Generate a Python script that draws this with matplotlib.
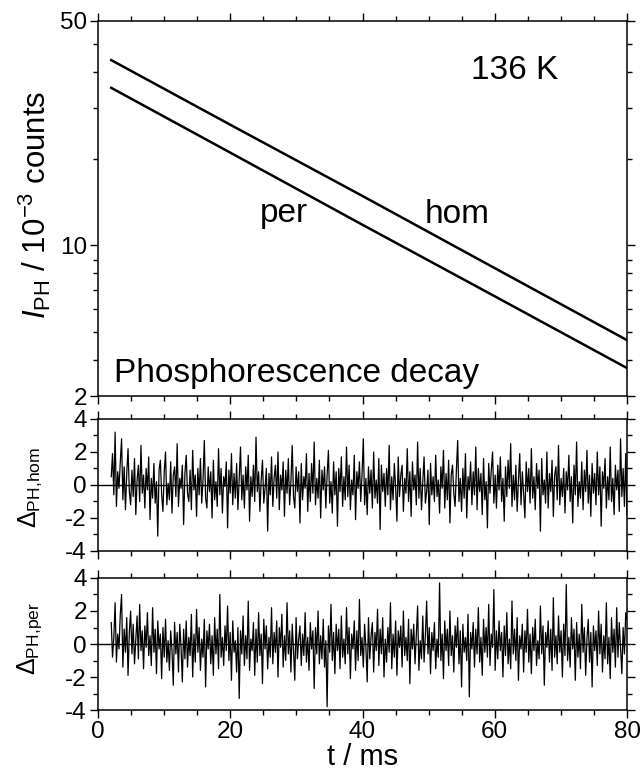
import numpy as np
import matplotlib
matplotlib.use("Agg")
import matplotlib.pyplot as plt

plt.rcParams['font.family'] = ['Liberation Sans', 'DejaVu Sans']
plt.rcParams['mathtext.fontset'] = 'custom'
plt.rcParams['mathtext.rm'] = 'Liberation Sans'
plt.rcParams['mathtext.it'] = 'Liberation Sans:italic'
plt.rcParams['mathtext.sf'] = 'Liberation Sans'
plt.rcParams['axes.unicode_minus'] = False

# ─── Data ─────────────────────────────────────────────────────────────────────
# decay curves (I_PH in 1e-3 counts), read at a few times
t_decay = [2, 20, 40, 60, 80]
decay_hom = [33.9, 18.2, 12.6, 7.36, 3.68]
decay_per = [25.1, 15.55, 11.0, 5.65, 2.74]

# y axis of the decay panel: tick values and where they sit (axis is not a plain log axis)
yticks_major = [2, 10, 50]
yticks_minor = [3, 4, 5, 6, 7, 8, 15, 20, 30, 40]
scale_vals = [2, 3, 4, 5, 6, 7, 8, 10, 15, 20, 30, 40, 50]
scale_pos = [0, 36, 64, 87, 106, 123, 136, 151, 237, 288, 324, 352, 375]

# weighted residuals, sampled uniformly from t = 2 ms to 80 ms
res_hom = [
    0.5, 1.9, -0.6, 3.2, -1.3, 0.8, -0.2, 1.4, 2.8, -0.9, 1.1, -1.5, 0.7, 2.2, -0.4, -1.2, 0.9, -0.7, 1.6, -1.8, 0.3, 1.2, -1.0, 2.4, -0.5,
    0.6, -1.4, 1.0, -0.3, 1.7, -2.1, 0.4, -0.8, 1.3, -1.1, 0.2, -3.1, 0.9, 1.5, -0.6, -1.6, 0.8, 2.0, -1.2, 0.1, -0.9, 1.4, -1.7, 0.6, 1.1,
    -0.7, 2.5, -1.3, 0.4, -0.2, 1.2, -2.4, 0.7, 1.8, -0.5, -1.0, 0.9, -1.5, 2.1, -0.3, 0.6, -1.9, 1.0, -0.6, 1.6, -1.1, 0.3, 2.7, -0.8, -1.4,
    1.1, -0.4, 0.8, -2.0, 1.5, -0.9, 0.2, -1.3, 2.2, -0.6, 1.0, -1.7, 0.5, -0.1, 1.4, -2.6, 0.9, -0.5, 1.9, -1.2, 0.7, -0.8, 1.3, -1.5, 0.4,
    2.3, -0.9, 0.6, -1.4, 1.1, -0.3, 1.8, -2.2, 0.5, -0.7, 1.2, -1.0, 2.9, -0.4, 0.8, -1.6, 0.3, 1.5, -1.1, -0.2, 1.0, -2.8, 0.7, -0.6, 1.7,
    -1.3, 0.4, 1.2, -0.8, 2.0, -1.5, 0.6, -0.3, 1.4, -1.9, 0.9, -0.5, 1.6, -1.2, 0.2, 2.4, -0.7, -1.4, 1.1, -0.4, 0.8, -2.3, 1.3, -0.9, 0.5,
    -0.2, 1.9, -1.6, 0.7, -1.0, 1.3, -0.5, 2.6, -1.2, 0.4, -0.8, 1.5, -2.0, 0.9, -0.3, 1.1, -1.4, 0.6, 2.1, -1.1, 0.2, -1.7, 1.4, -0.6, 0.8,
    -2.5, 1.0, -0.4, 1.7, -1.3, 0.5, -0.9, 2.3, -0.7, 1.2, -1.5, 0.3, -0.6, 1.8, -2.1, 0.8, -0.2, 1.4, -1.0, 0.6, 2.8, -1.2, 0.4, -1.8, 1.1,
    -0.5, 0.9, -1.4, 2.0, -0.8, 0.3, -1.1, 1.6, -2.7, 1.2, -0.4, 0.7, -1.3, 1.0, -0.6, 2.4, -1.5, 0.5, -0.9, 1.3, -0.2, -2.2, 1.7, -0.7, 0.6,
    1.2, -1.6, 0.4, -0.5, 2.2, -1.0, 0.8, -1.9, 1.4, -0.3, 0.6, -1.2, 2.6, -0.8, 1.0, -1.5, 0.2, 1.7, -1.1, -0.4, 0.9, -2.4, 1.3, -0.6, 0.5,
    -1.0, 1.8, -0.7, 0.3, -1.7, 1.1, -0.2, 2.1, -1.4, 0.7, -0.9, 1.5, -2.3, 0.6, 1.2, -0.5, -1.3, 0.9, 2.7, -1.0, 0.4, -1.6, 1.0, -0.8, 1.9,
    -2.0, 0.5, -0.3, 1.4, -1.2, 0.8, -0.6, 2.3, -1.5, 1.0, -0.4, 0.7, -1.8, 1.6, -0.9, 0.2, -2.6, 1.3, -0.5, 0.9, 2.0, -1.1, 0.6, -1.4, 1.2,
    -0.3, 1.7, -1.0, 0.4, -2.2, 1.1, -0.7, 1.5, -0.2, 2.5, -1.3, 0.6, -0.9, 1.2, -1.6, 0.3, 1.9, -1.2, 0.8, -0.5, -2.0, 1.4, -0.4, 1.0, -1.1,
    2.2, -0.8, 0.5, -1.5, 1.3, -0.2, 0.9, -2.8, 1.6, -0.6, 0.3, -1.1, 2.0, -1.4, 0.7, -0.4, 1.5, -1.9, 0.6, 1.1, -0.9, 2.4, -1.2, 0.4, -0.7,
    1.0, -1.7, 0.8, -0.3, 1.8, -1.0, 0.5, -2.3, 1.2, -0.6, 2.6, -1.3, 0.2, -0.8, 1.4, -1.5, 0.9, -0.4, 2.1, -1.1, 0.6, -1.9, 1.3, -0.5, 0.7,
    -1.2, 2.0, -0.6, 1.1, -2.5, 0.8, -0.2, 1.6, -1.4, 0.5, -0.9, 2.3, -1.0, 0.4, -1.8, 1.2, -0.3, 0.9, -1.6, 2.8, -0.7, 1.0, -1.3, 1.9, -1.8,
]
res_per = [
    1.3, -0.8, 0.4, 2.5, -1.1, 0.6, -0.3, 1.8, 3.0, -1.4, 0.9, -0.5, 1.6, -1.9, 0.7, 2.0, -0.6, 1.2, -1.2, 0.3, 1.7, -0.9, 2.4, -0.4, 0.8,
    -1.5, 1.1, -0.2, 1.9, -0.7, 0.5, -1.3, 2.2, -0.5, 0.9, -1.8, 1.4, -0.3, 0.6, -2.1, 1.0, -0.8, 1.5, -1.1, 0.2, -1.6, 0.8, -0.4, -2.5, 1.3,
    -0.6, 0.7, -1.7, 1.2, -0.2, -2.3, 0.9, -0.9, 1.4, -1.4, 0.4, -0.7, 1.8, -2.0, 0.6, -1.1, 2.1, -0.5, 1.0, -1.6, 0.3, -0.8, 1.5, -2.6, 0.8,
    -0.3, 1.2, -1.2, 0.5, -1.9, 1.6, -0.6, 0.9, -1.5, 3.0, -0.8, 0.4, -1.3, 1.1, -0.4, 2.3, -1.0, 0.7, -2.2, 1.4, -0.5, 0.2, -1.7, 1.0, -3.3,
    0.8, -0.6, 1.7, -1.3, 0.5, -0.9, 2.6, -1.6, 0.3, -0.4, 1.3, -1.9, 0.9, -1.1, 1.9, -0.7, 0.6, -2.4, 1.5, -0.3, 1.1, -1.5, 0.4, -0.8, 2.2,
    -1.2, 0.7, -0.5, 1.4, -2.0, 1.0, -0.2, 1.8, -1.4, 0.5, -1.0, 2.5, -0.6, 0.8, -1.7, 1.2, -0.4, -2.2, 1.6, -0.9, 0.3, 1.1, -1.3, 0.6, -0.7,
    1.9, -1.1, 0.4, -1.6, 1.3, -0.3, 0.8, -2.7, 1.0, -0.6, 2.0, -1.2, 0.5, -0.9, 1.5, -1.4, 0.2, -3.8, 1.1, -0.5, 2.4, -1.0, 0.7, -1.8, 1.2,
    -0.4, 0.9, -1.5, 1.7, -0.8, 0.3, -1.2, 2.2, -0.6, 1.0, -2.1, 0.6, -0.3, 1.4, -1.6, 0.8, -1.0, 2.7, -0.7, 0.4, -1.4, 1.2, -0.2, -2.3, 1.6,
    -0.9, 0.5, 1.3, -1.7, 0.7, -0.4, 2.1, -1.3, 0.9, -0.6, 1.6, -2.0, 0.3, -1.1, 1.0, -0.5, 2.5, -1.5, 0.6, -0.8, 1.4, -1.9, 0.8, -0.2, 1.1,
    -1.4, 2.0, -0.7, 0.4, -1.0, 1.5, -2.4, 0.9, -0.3, 1.2, -1.2, 0.6, 2.3, -1.6, 0.2, -0.9, 1.7, -1.1, 0.5, 2.6, -0.6, 1.0, -1.8, 0.7, -0.4,
    1.3, -1.5, 0.3, -0.8, 3.7, -1.0, 0.6, -2.1, 1.4, -0.4, 0.9, -1.3, 2.0, -0.7, 0.5, -1.7, 1.1, -0.2, 1.6, -1.2, 0.8, -2.6, 1.2, -0.5, 0.4,
    -1.0, 1.8, -3.2, 0.7, -0.3, 1.3, -1.4, 0.9, -0.6, 2.2, -1.1, 0.4, -1.9, 1.5, -0.5, 1.0, -0.8, 2.4, -1.3, 0.6, -0.2, 3.3, -1.6, 0.8, -0.9,
    1.4, -0.4, 0.7, -2.0, 1.1, -0.7, 1.9, -1.2, 0.3, -1.5, 2.6, -0.6, 0.9, -1.0, 1.6, -2.2, 0.5, -0.3, 1.2, -1.7, 0.8, -0.5, 2.1, -1.1, 0.6,
    -1.8, 1.0, -0.4, 1.5, -1.3, 0.2, -0.9, 2.3, -0.6, 1.1, -2.5, 0.7, -0.2, 1.4, -1.1, 0.9, -1.6, 2.8, -0.8, 0.5, -1.2, 1.7, -0.5, 0.8, -2.0,
    1.2, -0.7, 3.6, -1.0, 0.4, -1.4, 1.6, -0.3, 0.9, -2.2, 1.3, -0.8, 0.6, -1.5, 2.4, -0.5, 1.0, -1.9, 0.3, 1.5, -1.1, 0.7, -2.6, 1.1, -0.4,
    0.8, -1.3, 2.0, -0.6, 1.2, -1.7, 0.5, -0.9, 2.5, -1.2, 0.4, -2.1, 1.6, -0.5, 0.9, -1.4, 2.2, -0.8, 1.3, -0.3, -1.8, 1.0, -0.6, 1.9, 1.5,
]
t_res_start, t_res_end = 2, 80

xticks_major = [0, 20, 40, 60, 80]
xticks_minor = [5, 10, 15, 25, 30, 35, 45, 50, 55, 65, 70, 75]
res_ticks_major = [-4, -2, 0, 2, 4]
res_ticks_minor = [-3, -1, 1, 3]

# ─── Scale for the decay panel ───────────────────────────────────────────────
log_vals = np.log10(scale_vals)
pos_arr = np.array(scale_pos, dtype=float)

def fwd(y):
    y = np.clip(np.asarray(y, dtype=float), 1e-3, None)
    return np.interp(np.log10(y), log_vals, pos_arr)

def inv(u):
    return 10 ** np.interp(np.asarray(u, dtype=float), pos_arr, log_vals)

# ─── Plotting ────────────────────────────────────────────────────────────────
fig = plt.figure(figsize=(6.41, 7.72), dpi=100)
left, width = 0.1529, 0.8253
ax1 = fig.add_axes([left, 0.4870, width, 0.4858])
ax2 = fig.add_axes([left, 0.2863, width, 0.1710])
ax3 = fig.add_axes([left, 0.0803, width, 0.1710])

tick_fs = 17.5
for ax in (ax1, ax2, ax3):
    for s in ax.spines.values():
        s.set_linewidth(1.1)
    ax.set_xlim(0, 80)
    ax.set_xticks(xticks_major)
    ax.set_xticks(xticks_minor, minor=True)
    ax.tick_params(which='both', direction='out', top=True, right=True,
                   width=1.0, labelsize=tick_fs, pad=2)
    ax.tick_params(which='major', length=6)
    ax.tick_params(which='minor', length=3.5)

# decay panel
ax1.plot(t_decay, decay_hom, color='k', lw=1.8)
ax1.plot(t_decay, decay_per, color='k', lw=1.8)
ax1.set_yscale('function', functions=(fwd, inv))
ax1.set_ylim(2, 50)
ax1.set_yticks(yticks_major)
ax1.set_yticklabels([str(v) for v in yticks_major])
ax1.set_yticks(yticks_minor, minor=True)
ax1.yaxis.set_minor_formatter(matplotlib.ticker.NullFormatter())
ax1.tick_params(axis='x', labelbottom=False)

ax1.text(0.788, 0.869, "136 K", transform=ax1.transAxes, fontsize=24,
         ha='center', va='center')
ax1.text(0.03, 0.02, "Phosphorescence decay", transform=ax1.transAxes,
         fontsize=24, ha='left', va='bottom')
ax1.text(0.306, 0.464, "per", transform=ax1.transAxes, fontsize=24,
         ha='left', va='baseline')
ax1.text(0.618, 0.461, "hom", transform=ax1.transAxes, fontsize=24,
         ha='left', va='baseline')

# residual panels
t_res = np.linspace(t_res_start, t_res_end, len(res_hom))
for ax, res in ((ax2, res_hom), (ax3, res_per)):
    ax.axhline(0, color='k', lw=1.0, zorder=1)
    ax.plot(t_res, res, color='k', lw=0.9, zorder=2)
    ax.set_ylim(-4, 4)
    ax.set_yticks(res_ticks_major)
    ax.set_yticks(res_ticks_minor, minor=True)

ax2.tick_params(axis='x', labelbottom=False)
ax3.set_xlabel("t / ms", fontsize=21, labelpad=0)

fig.text(35 / 641, 1 - 205 / 772, r'$I_{\rm PH}$ / 10$^{-3}$ counts',
         rotation=90, ha='center', va='center', fontsize=22.5)
fig.text(30 / 641, 1 - 487 / 772, r'Δ$_{\rm PH{,}hom}$',
         rotation=90, ha='center', va='center', fontsize=18)
fig.text(30 / 641, 1 - 638 / 772, r'Δ$_{\rm PH{,}per}$',
         rotation=90, ha='center', va='center', fontsize=18)

fig.savefig("out.png", dpi=100)
